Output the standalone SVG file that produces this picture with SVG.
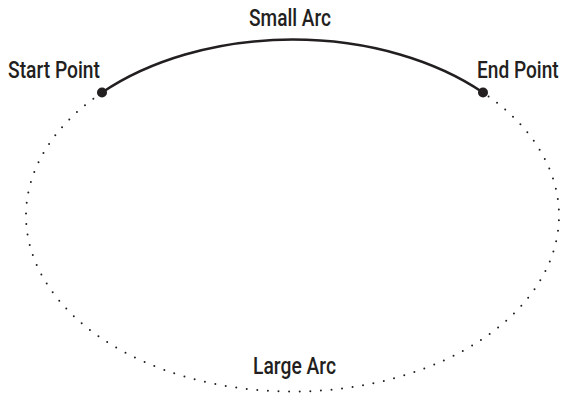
<svg xmlns="http://www.w3.org/2000/svg" width="562" height="393" viewBox="0 0 562 393">
<style>
.lbl{font-family:Roboto,"Liberation Sans",Arial,sans-serif;font-size:24.5px;font-weight:500;fill:#231f20}
.solid{fill:none;stroke:#231f20;stroke-width:2.5}
.dotted{fill:none;stroke:#231f20;stroke-width:2;stroke-linecap:round;stroke-dasharray:0 10.6}
.pt{fill:#231f20}
</style>
<rect width="562" height="393" fill="#fff"/>
<g id="connectors">
<path id="large-arc" class="dotted" d="M 102 92.5 A 266.5 176 0 1 0 483 92.5"/>
<path id="small-arc" class="solid" d="M 102 92.5 A 266.5 176 0 0 1 483 92.5"/>
</g>
<g id="start-point">
<circle class="pt" cx="102" cy="92.5" r="5"/>
<text class="lbl" x="8" y="78" textLength="92" lengthAdjust="spacingAndGlyphs">Start Point</text>
</g>
<g id="end-point">
<circle class="pt" cx="483" cy="92.5" r="5"/>
<text class="lbl" transform="translate(477 78) scale(0.78 1)">End Point</text>
</g>
<g id="small-arc-label">
<text class="lbl" x="249" y="26" textLength="82" lengthAdjust="spacingAndGlyphs">Small Arc</text>
</g>
<g id="large-arc-label">
<text class="lbl" x="253" y="374" textLength="83" lengthAdjust="spacingAndGlyphs">Large Arc</text>
</g>
</svg>
